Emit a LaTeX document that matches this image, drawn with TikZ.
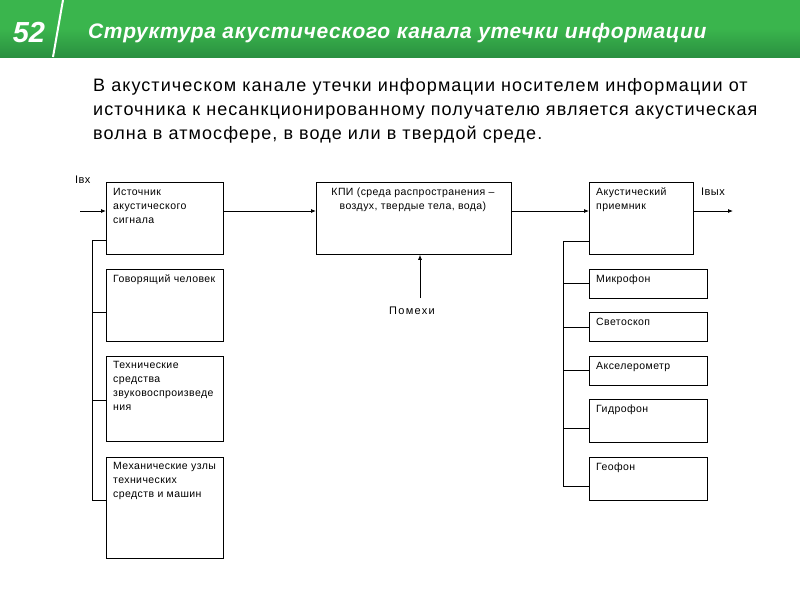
\documentclass[tikz,border=0pt]{standalone}
\usepackage{fontspec}
\setmainfont{Liberation Sans}
\newfontfamily\bodyfont[LetterSpace=6]{Liberation Sans}
\newfontfamily\boxfont[LetterSpace=4]{Liberation Sans}
\newfontfamily\titlefont[LetterSpace=3]{Liberation Sans}
\newfontfamily\pomfont[LetterSpace=12]{Liberation Sans}
\usetikzlibrary{arrows.meta,calc}
\definecolor{hgreen}{HTML}{3AB54D}
\definecolor{hgreend}{HTML}{2A9040}
\begin{document}
\begin{tikzpicture}[x=1pt,y=-1pt,
  box/.style={draw=black, line width=0.8pt, anchor=north west, inner sep=0pt, minimum width=#1},
  btxt/.style={anchor=north west, align=left, inner sep=0pt, font=\boxfont\fontsize{10.5}{14}\selectfont},
  conn/.style={line width=0.8pt},
  arr/.style={line width=0.8pt, -{Latex[length=5pt,width=4pt]}},
  lbl/.style={inner sep=0pt, font=\boxfont\fontsize{11}{13}\selectfont}]
\useasboundingbox (0,0) rectangle (800,600);
\fill[white] (0,0) rectangle (800,600);
% header
\shade[top color=hgreen, bottom color=hgreend, middle color=hgreen] (0,0) rectangle (800,57);
\draw[white, line width=2pt] (63,0) -- (53,57);
\node[text=white, inner sep=0pt, font=\fontsize{29}{33}\selectfont\bfseries\itshape] (num) at (29,33) {52};
\node[text=white, anchor=west, inner sep=0pt, font=\titlefont\fontsize{21}{24}\selectfont\bfseries\itshape] (title) at (88,33) {Структура акустического канала утечки информации};
% body text
\node[anchor=north west, align=left, inner sep=0pt, font=\bodyfont\fontsize{18}{24}\selectfont] (body) at (93,78)
 {В акустическом канале утечки информации носителем информации от\\
  источника к несанкционированному получателю является акустическая\\
  волна в атмосфере, в воде или в твердой среде.};
% main boxes
\node[box=117pt, minimum height=72pt] (src) at (106,182) {};
\node[btxt] at (113,188) {Источник\\акустического\\сигнала};
\node[box=195pt, minimum height=72pt] (kpi) at (316,182) {};
\node[btxt, anchor=north, align=center] at (413,188) {КПИ (среда распространения –\\воздух, твердые тела, вода)};
\node[box=104pt, minimum height=72pt] (rcv) at (589,182) {};
\node[btxt] at (596,188) {Акустический\\приемник};
% left sub boxes
\node[box=117pt, minimum height=72pt] (spk) at (106,269) {};
\node[btxt] at (113,275) {Говорящий человек};
\node[box=117pt, minimum height=85pt] (tech) at (106,356) {};
\node[btxt] at (113,361) {Технические\\средства\\звуковоспроизведе\\ния};
\node[box=117pt, minimum height=101pt] (mech) at (106,457) {};
\node[btxt] at (113,462) {Механические узлы\\технических\\средств и машин};
% right sub boxes
\node[box=118pt, minimum height=29pt] (mic) at (589,269) {};
\node[btxt] at (596,275) {Микрофон};
\node[box=118pt, minimum height=29pt] (svet) at (589,312) {};
\node[btxt] at (596,318) {Светоскоп};
\node[box=118pt, minimum height=29pt] (acc) at (589,356) {};
\node[btxt] at (596,362) {Акселерометр};
\node[box=118pt, minimum height=43pt] (gid) at (589,399) {};
\node[btxt] at (596,405) {Гидрофон};
\node[box=118pt, minimum height=43pt] (geo) at (589,457) {};
\node[btxt] at (596,463) {Геофон};
% labels
\node[lbl, anchor=north west] (ivx) at (75,176) {Iвх};
\node[lbl, anchor=north west] (ivyx) at (701,188) {Iвых};
\node[font=\pomfont\fontsize{11}{13}\selectfont, inner sep=0pt] (pom) at (412,311) {Помехи};
\coordinate (inL) at (80,211);
\coordinate (outR) at (733,211);
% connectors
\draw[arr] (inL) -- (inL -| src.west);
\draw[arr] (src.east |- inL) -- (kpi.west |- inL);
\draw[arr] (kpi.east |- inL) -- (rcv.west |- inL);
\draw[arr] (rcv.east |- outR) -- (outR);
\draw[arr] (420,298) -- (kpi.south -| 420,0);
% left bus
\coordinate (lb) at (92,240);
\draw[conn] (src.west |- lb) -- (lb) -- (92,500) -- (mech.west |- 0,500);
\draw[conn] (92,312) -- (spk.west |- 0,312);
\draw[conn] (92,400) -- (tech.west |- 0,400);
% right bus
\coordinate (rb) at (563,241);
\draw[conn] (rcv.west |- rb) -- (rb) -- (563,486) -- (geo.west |- 0,486);
\draw[conn] (563,283) -- (mic.west |- 0,283);
\draw[conn] (563,327) -- (svet.west |- 0,327);
\draw[conn] (563,370) -- (acc.west |- 0,370);
\draw[conn] (563,428) -- (gid.west |- 0,428);
\end{tikzpicture}
\end{document}
